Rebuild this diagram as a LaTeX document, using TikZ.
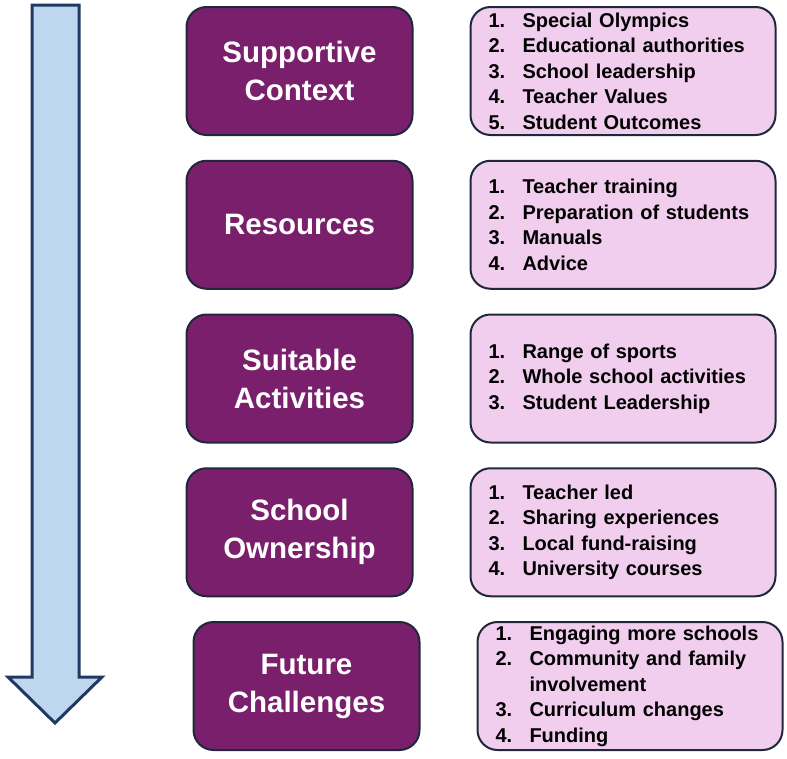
\documentclass[tikz,border=0pt]{standalone}
\usepackage{fontspec}
\setmainfont{Liberation Sans}
\usetikzlibrary{positioning}

\definecolor{plum}{RGB}{122,31,108}
\definecolor{lilac}{RGB}{241,205,238}
\definecolor{edgeblue}{RGB}{30,40,58}
\definecolor{skyfill}{RGB}{190,215,238}
\definecolor{navy}{RGB}{31,56,100}

% numbered line inside a detail box
\newcommand{\itm}[2]{\makebox[34pt][l]{#1.}#2}

\tikzstyle{stage} = [rectangle, rounded corners=20pt, minimum width=226pt, minimum height=128pt, align=center, draw=edgeblue, line width=2pt, fill=plum, text=white, font=\fontsize{29.5}{38}\selectfont\bfseries]
\tikzstyle{detail} = [rectangle, rounded corners=20pt, minimum width=305pt, minimum height=128pt, inner xsep=18pt, text width=269pt, align=left, draw=edgeblue, line width=2pt, fill=lilac, font=\fontsize{20}{25.5}\selectfont\bfseries]
\tikzstyle{flow} = [draw=navy, fill=skyfill, line width=3pt, line join=miter]

\begin{document}
\begin{tikzpicture}[x=1pt, y=-1pt]
    \useasboundingbox (0,0) rectangle (787,758);

    % big downward arrow on the left
    \draw [flow] (32,5) -- (79,5) -- (79,677) -- (102,677) -- (55,723)
        -- (8,677) -- (32,677) -- cycle;

    \node (context) [stage] at (299.5,71) {Supportive\\Context};
    \node (resources) [stage, below=23.75pt of context] {Resources};
    \node (activities) [stage, below=23.75pt of resources] {Suitable\\Activities};
    \node (ownership) [stage, below=23.75pt of activities] {School\\Ownership};
    \node (challenges) [stage, below=23.75pt of ownership, xshift=7pt] {Future\\Challenges};

    \node (contextlist) [detail, right=56pt of context] {\itm{1}{Special Olympics}\\
        \itm{2}{Educational authorities}\\
        \itm{3}{School leadership}\\
        \itm{4}{Teacher Values}\\
        \itm{5}{Student Outcomes}};
    \node (resourcelist) [detail, right=56pt of resources] {\itm{1}{Teacher training}\\
        \itm{2}{Preparation of students}\\
        \itm{3}{Manuals}\\
        \itm{4}{Advice}};
    \node (activitylist) [detail, right=56pt of activities] {\itm{1}{Range of sports}\\
        \itm{2}{Whole school activities}\\
        \itm{3}{Student Leadership}};
    \node (ownershiplist) [detail, right=56pt of ownership] {\itm{1}{Teacher led}\\
        \itm{2}{Sharing experiences}\\
        \itm{3}{Local fund-raising}\\
        \itm{4}{University courses}};
    \node (challengelist) [detail, right=56pt of challenges] {\itm{1}{Engaging more schools}\\
        \itm{2}{Community and family}\\
        \hspace*{34pt}involvement\\
        \itm{3}{Curriculum changes}\\
        \itm{4}{Funding}};

\end{tikzpicture}
\end{document}
